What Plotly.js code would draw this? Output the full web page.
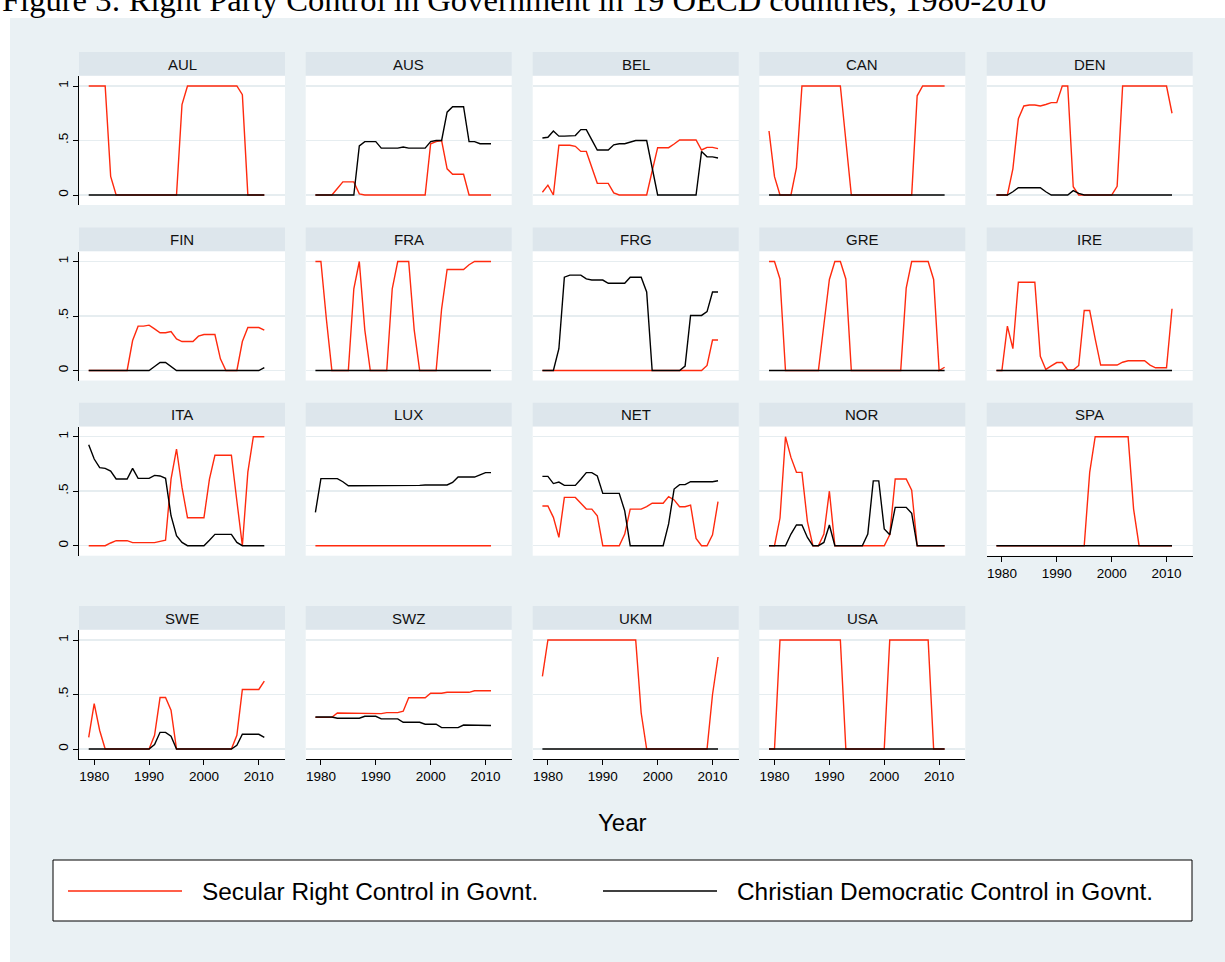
<!DOCTYPE html>
<html><head><meta charset="utf-8">
<script src="https://cdn.plot.ly/plotly-3.0.1.min.js"></script>
<style>html,body{margin:0;padding:0;background:#fff;overflow:hidden;} #chart{width:1225px;height:962px;}</style>
</head><body><div id="chart"></div>
<script>
// ---------------- DATA ----------------
const years = [1979,1980,1981,1982,1983,1984,1985,1986,1987,1988,1989,1990,1991,1992,1993,1994,1995,1996,1997,1998,1999,2000,2001,2002,2003,2004,2005,2006,2007,2008,2009,2010,2011];
const countries = ["AUL","AUS","BEL","CAN","DEN","FIN","FRA","FRG","GRE","IRE","ITA","LUX","NET","NOR","SPA","SWE","SWZ","UKM","USA"];
const xTickVals = [1980,1990,2000,2010];
const yTickVals = [0,0.5,1];
const yTickText = ["0",".5","1"];
const legendLabels = ["Secular Right Control in Govnt.","Christian Democratic Control in Govnt."];
const xAxisTitle = "Year";
const figureTitle = "Figure 3: Right Party Control in Government in 19 OECD countries, 1980-2010";

const AUL_secular  = [1,1,1,1,0.17,0,0,0,0,0,0,0,0,0,0,0,0,0.83,1,1,1,1,1,1,1,1,1,1,0.92,0,0,0,0];
const AUL_christian= [0,0,0,0,0,0,0,0,0,0,0,0,0,0,0,0,0,0,0,0,0,0,0,0,0,0,0,0,0,0,0,0,0];
const AUS_secular  = [0,0,0,0,0.06,0.12,0.12,0.12,0.01,0,0,0,0,0,0,0,0,0,0,0,0,0.47,0.49,0.5,0.24,0.19,0.19,0.19,0,0,0,0,0];
const AUS_christian= [0,0,0,0,0,0,0,0,0.45,0.49,0.49,0.49,0.43,0.43,0.43,0.43,0.44,0.43,0.43,0.43,0.43,0.49,0.5,0.5,0.76,0.81,0.81,0.81,0.49,0.49,0.47,0.47,0.47];
const BEL_secular  = [0.025,0.09,0,0.456,0.456,0.456,0.447,0.40,0.40,0.245,0.107,0.107,0.107,0.02,0,0,0,0,0,0,0.22,0.434,0.434,0.434,0.468,0.505,0.505,0.505,0.505,0.413,0.437,0.437,0.425];
const BEL_christian= [0.523,0.53,0.587,0.54,0.54,0.54,0.545,0.6,0.6,0.505,0.413,0.413,0.413,0.46,0.47,0.47,0.486,0.5,0.5,0.5,0.25,0,0,0,0,0,0,0,0,0.4,0.35,0.35,0.34];
const CAN_secular  = [0.587,0.168,0,0,0,0.25,1,1,1,1,1,1,1,1,0.5,0,0,0,0,0,0,0,0,0,0,0,0,0.91,1,1,1,1,1];
const CAN_christian= [0,0,0,0,0,0,0,0,0,0,0,0,0,0,0,0,0,0,0,0,0,0,0,0,0,0,0,0,0,0,0,0,0];
const DEN_secular  = [0,0,0,0.24,0.70,0.817,0.826,0.826,0.817,0.83,0.847,0.847,1,1,0.076,0,0,0,0,0,0,0,0.08,1,1,1,1,1,1,1,1,1,0.75];
const DEN_christian= [0,0,0,0.03,0.067,0.067,0.067,0.067,0.067,0.03,0,0,0,0,0.04,0.015,0,0,0,0,0,0,0,0,0,0,0,0,0,0,0,0,0];
const FIN_secular  = [0,0,0,0,0,0,0,0,0.275,0.407,0.407,0.416,0.382,0.346,0.346,0.358,0.29,0.266,0.266,0.266,0.315,0.33,0.33,0.33,0.107,0,0,0,0.266,0.394,0.394,0.394,0.37];
const FIN_christian= [0,0,0,0,0,0,0,0,0,0,0,0,0.037,0.073,0.073,0.04,0,0,0,0,0,0,0,0,0,0,0,0,0,0,0,0,0.027];
const FRA_secular  = [1,1,0.47,0,0,0,0,0.75,1,0.373,0,0,0,0,0.75,1,1,1,0.373,0,0,0,0,0.566,0.927,0.927,0.927,0.927,0.97,1,1,1,1];
const FRA_christian= [0,0,0,0,0,0,0,0,0,0,0,0,0,0,0,0,0,0,0,0,0,0,0,0,0,0,0,0,0,0,0,0,0];
const FRG_secular  = [0,0,0,0,0,0,0,0,0,0,0,0,0,0,0,0,0,0,0,0,0,0,0,0,0,0,0,0,0,0,0.046,0.28,0.28];
const FRG_christian= [0,0,0,0.2,0.856,0.875,0.875,0.875,0.84,0.83,0.83,0.83,0.80,0.80,0.80,0.80,0.856,0.856,0.856,0.72,0,0,0,0,0,0,0.04,0.505,0.505,0.505,0.54,0.72,0.72];
const GRE_secular  = [1,1,0.84,0,0,0,0,0,0,0,0.42,0.835,1,1,0.84,0,0,0,0,0,0,0,0,0,0,0.755,1,1,1,1,0.835,0,0.03];
const GRE_christian= [0,0,0,0,0,0,0,0,0,0,0,0,0,0,0,0,0,0,0,0,0,0,0,0,0,0,0,0,0,0,0,0,0];
const IRE_secular  = [0,0,0.407,0.2,0.81,0.81,0.81,0.81,0.13,0.01,0.043,0.073,0.073,0.005,0.005,0.046,0.55,0.55,0.29,0.05,0.05,0.05,0.05,0.076,0.089,0.089,0.089,0.089,0.05,0.025,0.025,0.025,0.566];
const IRE_christian= [0,0,0,0,0,0,0,0,0,0,0,0,0,0,0,0,0,0,0,0,0,0,0,0,0,0,0,0,0,0,0,0,0];
const ITA_secular  = [0,0,0,0,0.025,0.046,0.046,0.046,0.028,0.028,0.028,0.028,0.028,0.04,0.05,0.61,0.887,0.535,0.257,0.257,0.257,0.257,0.61,0.83,0.83,0.83,0.83,0.41,0,0.675,1,1,1];
const ITA_christian= [0.927,0.795,0.716,0.71,0.685,0.612,0.612,0.612,0.71,0.618,0.618,0.618,0.645,0.64,0.618,0.275,0.092,0.03,0,0,0,0,0.05,0.104,0.104,0.104,0.104,0.03,0,0,0,0,0];
const LUX_secular  = [0,0,0,0,0,0,0,0,0,0,0,0,0,0,0,0,0,0,0,0,0,0,0,0,0,0,0,0,0,0,0,0,0];
const LUX_christian= [0.306,0.615,0.615,0.615,0.615,0.587,0.55,0.55,0.55,0.55,0.55,0.55,0.55,0.55,0.55,0.553,0.553,0.553,0.553,0.553,0.557,0.557,0.557,0.557,0.557,0.58,0.63,0.63,0.63,0.63,0.65,0.67,0.67];
const NET_secular  = [0.364,0.364,0.26,0.076,0.443,0.443,0.443,0.39,0.336,0.336,0.275,0,0,0,0,0.107,0.336,0.336,0.336,0.358,0.39,0.39,0.39,0.45,0.42,0.358,0.358,0.373,0.067,0,0,0.1,0.404];
const NET_christian= [0.636,0.636,0.57,0.584,0.553,0.553,0.553,0.609,0.67,0.67,0.64,0.48,0.48,0.48,0.48,0.32,0,0,0,0,0,0,0,0.2,0.52,0.56,0.56,0.587,0.587,0.587,0.587,0.587,0.596];
const NOR_secular  = [0,0,0.254,1,0.81,0.673,0.673,0.22,0,0,0.107,0.5,0,0,0,0,0,0,0,0,0,0,0.1,0.612,0.612,0.612,0.51,0,0,0,0,0,0];
const NOR_christian= [0,0,0,0,0.107,0.19,0.19,0.076,0,0,0.03,0.19,0,0,0,0,0,0,0.107,0.595,0.595,0.153,0.1,0.352,0.352,0.352,0.297,0,0,0,0,0,0];
const SPA_secular  = [0,0,0,0,0,0,0,0,0,0,0,0,0,0,0,0,0,0.673,1,1,1,1,1,1,1,0.336,0,0,0,0,0,0,0];
const SPA_christian= [0,0,0,0,0,0,0,0,0,0,0,0,0,0,0,0,0,0,0,0,0,0,0,0,0,0,0,0,0,0,0,0,0];
const SWE_secular  = [0.107,0.417,0.17,0,0,0,0,0,0,0,0,0,0.126,0.472,0.472,0.356,0,0,0,0,0,0,0,0,0,0,0,0.126,0.546,0.546,0.546,0.546,0.623];
const SWE_christian= [0,0,0,0,0,0,0,0,0,0,0,0,0.04,0.153,0.153,0.117,0,0,0,0,0,0,0,0,0,0,0,0.034,0.135,0.135,0.135,0.135,0.107];
const SWZ_secular  = [0.29,0.29,0.29,0.29,0.33,0.33,0.33,0.33,0.325,0.325,0.325,0.325,0.325,0.334,0.334,0.334,0.347,0.47,0.47,0.47,0.47,0.512,0.512,0.512,0.52,0.52,0.52,0.52,0.52,0.534,0.534,0.534,0.534];
const SWZ_christian= [0.294,0.294,0.294,0.294,0.282,0.282,0.282,0.282,0.282,0.30,0.30,0.30,0.276,0.276,0.276,0.276,0.245,0.245,0.245,0.245,0.227,0.227,0.227,0.196,0.196,0.196,0.196,0.22,0.22,0.22,0.22,0.218,0.215];
const UKM_secular  = [0.666,1,1,1,1,1,1,1,1,1,1,1,1,1,1,1,1,1,0.33,0,0,0,0,0,0,0,0,0,0,0,0,0.5,0.844];
const UKM_christian= [0,0,0,0,0,0,0,0,0,0,0,0,0,0,0,0,0,0,0,0,0,0,0,0,0,0,0,0,0,0,0,0,0];
const USA_secular  = [0,0,1,1,1,1,1,1,1,1,1,1,1,1,0,0,0,0,0,0,0,0,1,1,1,1,1,1,1,1,0,0,0];
const USA_christian= [0,0,0,0,0,0,0,0,0,0,0,0,0,0,0,0,0,0,0,0,0,0,0,0,0,0,0,0,0,0,0,0,0];

const secularByCountry = {AUL:AUL_secular,AUS:AUS_secular,BEL:BEL_secular,CAN:CAN_secular,DEN:DEN_secular,FIN:FIN_secular,FRA:FRA_secular,FRG:FRG_secular,GRE:GRE_secular,IRE:IRE_secular,ITA:ITA_secular,LUX:LUX_secular,NET:NET_secular,NOR:NOR_secular,SPA:SPA_secular,SWE:SWE_secular,SWZ:SWZ_secular,UKM:UKM_secular,USA:USA_secular};
const christianByCountry = {AUL:AUL_christian,AUS:AUS_christian,BEL:BEL_christian,CAN:CAN_christian,DEN:DEN_christian,FIN:FIN_christian,FRA:FRA_christian,FRG:FRG_christian,GRE:GRE_christian,IRE:IRE_christian,ITA:ITA_christian,LUX:LUX_christian,NET:NET_christian,NOR:NOR_christian,SPA:SPA_christian,SWE:SWE_christian,SWZ:SWZ_christian,UKM:UKM_christian,USA:USA_christian};

// ---------------- STYLE / LAYOUT ----------------
const W = 1225, H = 962;
const FONT = "Liberation Sans, Arial, Helvetica, sans-serif";
const RED = "#ff2a0e", BLACK = "#000000";
const OUTER_BG = "#eaf1f4", STRIP_BG = "#dde6ec", GRID = "#e6edf0";
const colLeft = [79, 305.7, 532.7, 759.3, 986.7];
const panelW = 206;
const rowTop = [76, 251.5, 426.7, 630];
const panelH = 129, stripH = 24;
const xRange = [1977.23, 2014.77];
const yRange = [-0.0917, 1.0917];
const px = p => p / W;
const py = p => 1 - p / H;

const traces = [];
const layout = {
  width: W, height: H,
  margin: {l:0, r:0, t:0, b:0, pad:0},
  paper_bgcolor: OUTER_BG,
  plot_bgcolor: "#ffffff",
  showlegend: false,
  font: {family: FONT, color: "#000"},
  shapes: [], annotations: []
};

countries.forEach((c, k) => {
  const r = Math.floor(k / 5), col = k % 5;
  const n = k + 1;
  const xa = n === 1 ? "x" : "x" + n;
  const ya = n === 1 ? "y" : "y" + n;
  const xKey = n === 1 ? "xaxis" : "xaxis" + n;
  const yKey = n === 1 ? "yaxis" : "yaxis" + n;
  const showX = (r === 3) || (r === 2 && col === 4);
  const showY = col === 0;
  layout[xKey] = {
    domain: [px(colLeft[col]), px(colLeft[col] + panelW)],
    anchor: ya, range: xRange, fixedrange: true,
    showgrid: false, zeroline: false,
    showline: showX, linecolor: "#000", linewidth: 1,
    ticks: showX ? "outside" : "", ticklen: 5, tickcolor: "#000", tickwidth: 1,
    tickmode: "array", tickvals: xTickVals,
    showticklabels: showX, tickfont: {family: FONT, size: 13.5, color: "#000"}
  };
  layout[yKey] = {
    domain: [py(rowTop[r] + panelH), py(rowTop[r])],
    anchor: xa, range: yRange, fixedrange: true,
    showgrid: true, gridcolor: GRID, gridwidth: 1.5, zeroline: false,
    showline: showY, linecolor: "#000", linewidth: 1,
    ticks: showY ? "outside" : "", ticklen: 5, tickcolor: "#000", tickwidth: 1,
    tickmode: "array", tickvals: yTickVals, ticktext: yTickText, tickangle: -90,
    showticklabels: showY, tickfont: {family: FONT, size: 13.5, color: "#000"}
  };
  traces.push({x: years, y: secularByCountry[c], xaxis: xa, yaxis: ya, type: "scatter", mode: "lines",
    line: {color: RED, width: 1.4}, hoverinfo: "skip", name: legendLabels[0]});
  traces.push({x: years, y: christianByCountry[c], xaxis: xa, yaxis: ya, type: "scatter", mode: "lines",
    line: {color: BLACK, width: 1.4}, hoverinfo: "skip", name: legendLabels[1]});
  // strip
  layout.shapes.push({type: "rect", xref: xa + " domain", yref: ya + " domain",
    x0: 0, x1: 1, y0: 1.004, y1: 1 + stripH / panelH, fillcolor: STRIP_BG, line: {width: 0}, layer: "below"});
  layout.annotations.push({xref: xa + " domain", yref: ya + " domain", x: 0.5, y: 1 + (stripH / 2) / panelH,
    xanchor: "center", yanchor: "middle", showarrow: false, text: c,
    font: {family: FONT, size: 15, color: "#111"}});
});

// white frame at top-left of picture
layout.shapes.push({type: "rect", xref: "paper", yref: "paper", x0: 0, x1: 1, y0: py(18), y1: 1, fillcolor: "#ffffff", line: {width: 0}, layer: "below"});
layout.shapes.push({type: "rect", xref: "paper", yref: "paper", x0: 0, x1: px(10), y0: 0, y1: 1, fillcolor: "#ffffff", line: {width: 0}, layer: "below"});

// title (cut at the top edge, as in the source picture)
layout.annotations.push({xref: "paper", yref: "paper", x: 0, y: py(20), xanchor: "left", yanchor: "bottom",
  showarrow: false, text: figureTitle, font: {family: "Liberation Serif, Times New Roman, serif", size: 32.6, color: "#000"}});

// x axis title
layout.annotations.push({xref: "paper", yref: "paper", x: px(622), y: py(822), xanchor: "center", yanchor: "middle",
  showarrow: false, text: xAxisTitle, font: {family: FONT, size: 24, color: "#000"}});

// legend box
layout.shapes.push({type: "rect", xref: "paper", yref: "paper", x0: px(53), x1: px(1192), y0: py(921), y1: py(860),
  fillcolor: "#ffffff", line: {color: "#000", width: 1}});
layout.shapes.push({type: "line", xref: "paper", yref: "paper", x0: px(68), x1: px(182), y0: py(891), y1: py(891),
  line: {color: RED, width: 1.6}});
layout.shapes.push({type: "line", xref: "paper", yref: "paper", x0: px(603), x1: px(717), y0: py(891), y1: py(891),
  line: {color: BLACK, width: 1.6}});
layout.annotations.push({xref: "paper", yref: "paper", x: px(200), y: py(891), xanchor: "left", yanchor: "middle",
  showarrow: false, text: legendLabels[0], font: {family: FONT, size: 24.4, color: "#000"}});
layout.annotations.push({xref: "paper", yref: "paper", x: px(735), y: py(891), xanchor: "left", yanchor: "middle",
  showarrow: false, text: legendLabels[1], font: {family: FONT, size: 24.4, color: "#000"}});

Plotly.newPlot("chart", traces, layout, {staticPlot: true, displayModeBar: false});
</script>
</body></html>
